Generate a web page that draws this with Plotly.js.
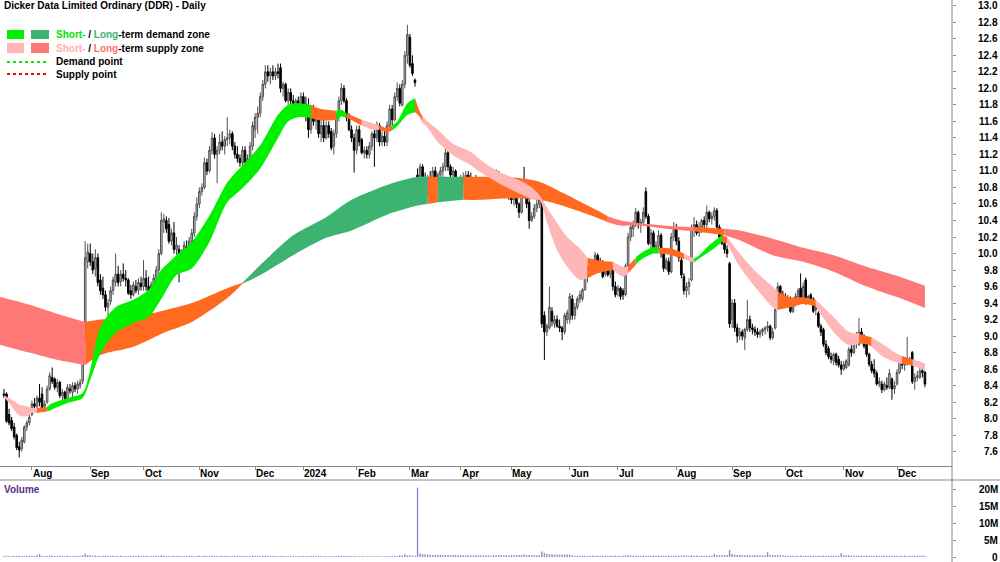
<!DOCTYPE html>
<html><head><meta charset="utf-8">
<script src="https://cdn.plot.ly/plotly-3.0.1.min.js"></script>
<style>html,body{margin:0;padding:0;background:#fff}#chart{width:1000px;height:562px}</style>
</head><body><div id="chart"></div>
<script>
// ---- Daily bars (trading day index 0 = 17 Jul 2023 ... 363 = 17 Dec 2024) ----
const openP = [
8.30,8.30,8.05,7.98,7.90,7.80,7.66,7.64,7.72,7.90,7.95,
8.05,8.18,8.15,8.25,8.30,8.15,8.20,8.36,8.50,8.48,8.38,8.44,8.28,8.32,8.24,8.36,8.32,8.40,8.36,8.40,8.45,9.00,9.90,
10.00,9.90,9.82,9.95,9.68,9.58,9.50,9.35,9.42,9.55,9.65,9.75,9.66,9.75,9.70,9.68,9.55,9.50,9.60,9.56,9.64,
9.60,9.70,9.60,9.52,9.62,9.70,9.80,10.00,10.38,10.40,10.35,10.15,10.25,10.05,10.05,9.90,10.00,10.08,10.02,10.15,10.25,10.45,
10.60,10.75,10.80,11.10,11.00,11.25,11.40,11.20,11.25,11.35,11.30,11.38,11.40,11.45,11.30,11.20,11.15,11.10,11.25,11.10,11.15,11.30,
11.50,11.65,11.70,11.90,12.05,12.20,12.15,12.20,12.15,12.20,12.25,12.00,12.05,11.85,11.95,11.85,11.72,11.85,11.80,
11.90,11.80,11.70,11.50,11.75,11.60,11.65,11.45,11.55,11.40,11.55,11.48,11.30,11.45,11.65,11.85,12.00,11.85,11.65,11.50,11.40,
11.25,11.50,11.38,11.22,11.25,11.20,11.30,11.45,11.40,11.55,11.35,11.42,11.35,11.55,11.75,11.62,11.90,12.00,11.80,12.05,12.40,
12.62,12.30,12.10,10.95,10.70,11.05,10.90,10.72,10.90,10.85,11.00,10.90,10.95,11.00,11.05,11.22,11.05,10.95,11.00,10.85,
10.80,10.90,10.92,10.95,10.90,10.85,10.88,10.82,10.75,10.85,10.78,10.80,10.72,10.80,10.78,10.98,10.85,10.80,10.75,10.78,
10.70,10.65,10.70,10.60,10.50,10.80,10.75,10.62,10.40,10.45,10.55,10.60,10.65,9.25,9.05,9.10,9.30,9.15,9.20,9.12,9.10,9.05,9.20,
9.20,9.45,9.25,9.35,9.45,9.45,9.56,9.75,9.80,9.85,9.88,9.98,9.90,9.88,9.75,9.85,9.75,9.82,9.60,
9.55,9.58,9.55,9.50,9.85,10.20,10.30,10.35,10.50,10.35,10.38,10.75,10.45,10.12,10.25,10.05,10.10,10.22,10.00,9.82,9.90,9.78,10.20,
10.30,10.15,9.92,9.72,9.55,9.60,9.68,10.30,10.35,10.25,10.32,10.40,10.35,10.50,10.42,10.45,10.52,10.32,10.20,10.12,10.05,9.88,
9.20,9.40,9.10,9.00,9.05,8.98,9.08,9.20,9.10,9.08,9.05,9.02,9.05,9.08,9.10,9.12,8.98,9.10,9.35,9.60,9.50,
9.45,9.42,9.45,9.30,9.42,9.48,9.58,9.45,9.68,9.42,9.50,9.45,9.32,9.28,9.12,9.08,8.90,8.85,8.75,8.70,8.78,8.72,8.65,
8.60,8.62,8.65,8.84,8.80,8.95,8.90,9.05,9.00,8.90,8.78,8.66,8.60,8.55,8.42,8.42,8.35,8.40,8.38,8.48,8.36,
8.42,8.56,8.70,8.65,8.68,8.70,8.80,8.45,8.50,8.50,8.58,8.56];
const highP = [
8.36,8.32,8.12,8.02,7.95,7.82,7.72,7.78,7.92,7.98,8.05,
8.22,8.25,8.28,8.42,8.38,8.22,8.40,8.56,8.62,8.50,8.48,8.46,8.36,8.34,8.42,8.42,8.44,8.44,8.46,8.48,8.95,10.15,10.12,
10.12,10.00,10.05,10.00,9.75,9.72,9.55,9.45,9.60,9.72,10.00,9.85,9.80,9.88,9.80,9.70,9.62,9.66,9.68,9.70,9.72,
9.92,9.80,9.72,9.66,9.75,9.85,10.05,10.50,10.48,10.45,10.43,10.30,10.38,10.20,10.10,10.05,10.15,10.16,10.20,10.30,10.50,10.68,
10.80,10.85,11.16,11.15,11.30,11.47,11.45,11.30,11.45,11.48,11.42,11.65,11.50,11.48,11.35,11.30,11.20,11.30,11.30,11.20,11.35,11.60,
11.70,11.78,11.95,12.10,12.28,12.28,12.25,12.28,12.25,12.30,12.30,12.08,12.07,12.00,12.00,11.92,11.88,11.90,11.95,
11.95,11.90,11.88,11.80,11.80,11.70,11.68,11.62,11.64,11.60,11.60,11.52,11.50,11.70,11.90,12.06,12.04,11.88,11.70,11.55,11.45,
11.55,11.55,11.40,11.30,11.30,11.35,11.48,11.50,11.60,11.58,11.48,11.50,11.60,11.80,11.80,11.95,12.07,12.05,12.10,12.45,12.77,
12.66,12.40,12.12,11.03,11.09,11.08,10.98,10.95,11.00,11.05,11.05,10.98,11.05,11.10,11.27,11.25,11.08,11.05,11.02,10.92,
10.95,10.98,11.00,11.00,10.98,10.92,10.95,10.88,10.90,10.90,10.85,10.88,10.85,10.85,11.02,11.00,10.90,10.88,10.82,10.80,
10.77,10.75,10.72,10.62,10.85,11.05,10.78,10.68,10.50,10.60,10.65,10.70,10.68,9.30,9.15,9.60,9.35,9.25,9.25,9.20,9.12,9.28,9.32,
9.52,9.50,9.40,9.48,9.55,9.58,9.80,9.85,9.88,9.92,10.02,10.00,9.95,9.92,9.85,9.90,9.88,9.85,9.66,
9.62,9.60,9.58,9.88,10.25,10.38,10.40,10.55,10.52,10.42,10.56,10.80,10.48,10.30,10.28,10.15,10.28,10.25,10.05,9.95,9.95,10.25,10.38,
10.36,10.20,9.95,9.76,9.65,9.70,10.35,10.44,10.40,10.38,10.42,10.45,10.58,10.52,10.50,10.56,10.55,10.35,10.25,10.18,10.10,9.90,
9.45,9.45,9.15,9.10,9.08,9.10,9.44,9.25,9.15,9.12,9.10,9.08,9.10,9.12,9.18,9.14,9.10,9.35,9.65,9.62,9.55,
9.52,9.50,9.48,9.45,9.52,9.58,9.76,9.65,9.71,9.50,9.52,9.47,9.40,9.30,9.15,9.10,8.95,8.88,8.80,8.80,8.80,8.76,8.70,
8.70,8.72,8.87,8.90,8.98,9.05,9.22,9.10,9.02,8.92,8.80,8.70,8.72,8.58,8.50,8.46,8.45,8.50,8.60,8.50,8.45,
8.60,8.74,8.75,8.72,8.99,8.75,8.82,8.55,8.58,8.62,8.62,8.58];
const lowP = [
8.25,7.95,7.92,7.85,7.75,7.62,7.53,7.60,7.70,7.85,7.92,
8.03,8.12,8.10,8.15,8.10,8.08,8.18,8.34,8.42,8.35,8.32,8.25,8.22,8.20,8.22,8.30,8.26,8.32,8.30,8.36,8.42,8.95,9.82,
9.85,9.75,9.72,9.60,9.50,9.45,9.30,9.22,9.38,9.50,9.60,9.60,9.60,9.66,9.60,9.50,9.45,9.48,9.52,9.50,9.55,
9.55,9.55,9.48,9.45,9.55,9.62,9.75,9.98,10.25,10.25,10.12,10.10,10.00,9.98,9.65,9.82,9.95,9.98,9.98,10.05,10.20,10.40,
10.55,10.70,10.78,10.95,10.98,11.20,11.15,10.85,11.20,11.25,11.20,11.30,11.32,11.25,11.15,11.10,11.05,11.00,11.05,11.00,11.10,11.25,
11.40,11.45,11.65,11.85,12.00,12.08,12.05,12.10,12.10,12.12,11.95,11.90,11.83,11.65,11.80,11.68,11.70,11.75,11.75,
11.75,11.60,11.40,11.45,11.55,11.50,11.40,11.35,11.35,11.38,11.40,11.25,11.20,11.40,11.60,11.80,11.82,11.60,11.48,11.35,10.98,
11.20,11.30,11.20,11.15,11.15,11.15,11.25,11.05,11.35,11.30,11.30,11.30,11.30,11.50,11.55,11.60,11.85,11.78,11.78,12.00,12.30,
12.25,12.15,12.02,10.60,10.68,10.80,10.70,10.70,10.80,10.82,10.85,10.82,10.90,10.92,11.00,11.00,10.92,10.88,10.82,10.74,
10.76,10.85,10.85,10.88,10.82,10.78,10.80,10.72,10.72,10.75,10.70,10.70,10.68,10.72,10.76,10.80,10.75,10.72,10.68,10.65,
10.60,10.58,10.55,10.43,10.48,10.70,10.55,10.30,10.38,10.42,10.50,10.55,9.10,8.71,9.00,9.08,9.12,9.10,9.10,9.05,8.95,9.02,9.15,
9.15,9.20,9.20,9.32,9.40,9.42,9.55,9.65,9.72,9.80,9.85,9.85,9.80,9.70,9.72,9.72,9.70,9.55,9.47,
9.48,9.44,9.44,9.48,9.82,10.15,10.20,10.32,10.30,10.25,10.35,10.42,10.10,10.05,10.02,10.00,10.05,9.95,9.78,9.80,9.74,9.76,10.15,
10.10,9.90,9.70,9.50,9.47,9.50,9.66,10.20,10.22,10.20,10.25,10.28,10.30,10.38,10.35,10.40,10.30,10.16,10.10,10.00,9.95,9.10,
9.10,9.05,8.92,8.95,8.95,8.83,9.05,9.05,9.02,9.00,8.98,8.98,9.00,9.02,9.05,8.95,8.96,9.08,9.32,9.45,9.40,
9.38,9.35,9.28,9.28,9.36,9.40,9.42,9.42,9.38,9.40,9.38,9.28,9.25,9.10,9.00,8.87,8.77,8.72,8.67,8.65,8.64,8.62,8.53,
8.58,8.60,8.63,8.75,8.78,8.85,8.88,8.95,8.85,8.75,8.63,8.55,8.50,8.40,8.38,8.31,8.33,8.35,8.36,8.23,8.30,
8.40,8.54,8.60,8.58,8.64,8.65,8.42,8.35,8.45,8.48,8.50,8.38];
const closeP = [
8.28,7.97,7.95,7.88,7.78,7.65,7.62,7.74,7.90,7.95,8.02,
8.18,8.15,8.25,8.20,8.12,8.18,8.36,8.52,8.45,8.38,8.44,8.28,8.32,8.24,8.38,8.34,8.40,8.36,8.42,8.44,8.90,9.95,10.02,
9.90,9.80,9.95,9.65,9.55,9.50,9.35,9.40,9.55,9.68,9.75,9.65,9.75,9.70,9.68,9.52,9.50,9.62,9.55,9.65,9.60,
9.70,9.60,9.52,9.62,9.70,9.80,10.00,10.40,10.42,10.30,10.15,10.25,10.05,10.10,9.90,10.00,10.10,10.02,10.15,10.25,10.45,10.60,
10.75,10.80,11.10,11.00,11.25,11.40,11.20,11.25,11.35,11.30,11.38,11.40,11.45,11.30,11.20,11.15,11.10,11.25,11.10,11.15,11.30,11.55,
11.65,11.70,11.90,12.05,12.20,12.15,12.20,12.15,12.20,12.18,12.00,12.05,11.85,11.95,11.85,11.70,11.85,11.80,11.90,
11.80,11.70,11.50,11.75,11.60,11.65,11.45,11.55,11.40,11.55,11.45,11.28,11.45,11.65,11.85,12.00,11.85,11.65,11.50,11.40,11.25,
11.50,11.35,11.22,11.25,11.20,11.30,11.45,11.40,11.55,11.35,11.42,11.35,11.55,11.75,11.62,11.90,12.00,11.82,12.05,12.40,12.65,
12.28,12.18,12.07,10.70,11.05,10.85,10.72,10.90,10.85,11.00,10.90,10.95,11.00,11.05,11.22,11.05,10.95,11.00,10.85,10.78,
10.90,10.92,10.95,10.90,10.85,10.88,10.82,10.75,10.85,10.78,10.80,10.72,10.80,10.78,10.98,10.85,10.80,10.75,10.78,10.70,
10.65,10.70,10.60,10.50,10.80,10.75,10.60,10.40,10.45,10.55,10.60,10.65,9.15,9.05,9.12,9.35,9.18,9.20,9.12,9.10,9.05,9.25,9.28,
9.48,9.25,9.35,9.45,9.50,9.56,9.75,9.80,9.85,9.90,9.98,9.88,9.82,9.72,9.80,9.74,9.85,9.60,9.50,
9.58,9.48,9.50,9.85,10.20,10.32,10.35,10.50,10.35,10.38,10.50,10.45,10.12,10.25,10.05,10.10,10.22,10.00,9.82,9.92,9.78,10.20,10.30,
10.15,9.95,9.74,9.55,9.60,9.65,10.30,10.35,10.25,10.32,10.40,10.35,10.50,10.42,10.45,10.52,10.32,10.20,10.12,10.05,10.00,9.15,
9.40,9.10,9.00,9.05,9.00,9.08,9.20,9.10,9.08,9.05,9.02,9.05,9.08,9.10,9.12,8.98,9.05,9.32,9.60,9.50,9.45,
9.42,9.45,9.30,9.42,9.48,9.55,9.45,9.60,9.40,9.48,9.40,9.30,9.35,9.12,9.05,8.90,8.80,8.75,8.72,8.78,8.68,8.65,8.60,
8.66,8.70,8.84,8.80,8.95,9.00,9.05,9.00,8.88,8.78,8.66,8.58,8.55,8.42,8.45,8.35,8.42,8.38,8.55,8.36,8.40,
8.56,8.70,8.65,8.68,8.70,8.72,8.45,8.50,8.52,8.58,8.56,8.42];
// volume in millions of shares
const volumeM = [
0.3,0.4,0.3,0.3,0.4,0.3,0.4,0.3,0.3,0.4,0.3,
0.4,0.3,0.5,0.9,0.4,0.3,0.4,0.5,0.4,0.3,0.3,0.4,0.3,0.3,0.4,0.3,0.3,0.4,0.3,0.4,0.5,1.0,0.6,
0.5,0.4,0.4,0.4,0.3,0.4,0.4,0.3,0.3,0.4,0.3,0.3,0.4,0.3,0.3,0.3,0.4,0.3,0.3,0.4,0.3,
0.3,0.4,0.3,0.3,0.3,0.4,0.3,0.5,0.4,0.3,0.3,0.3,0.4,0.3,0.4,0.3,0.3,0.3,0.3,0.4,0.3,0.4,
0.4,0.3,0.4,0.3,0.3,0.4,0.3,0.3,0.3,0.4,0.3,0.3,0.3,0.3,0.4,0.3,0.3,0.3,0.3,0.3,0.3,0.4,
0.4,0.3,0.3,0.4,0.4,0.3,0.3,0.3,0.3,0.3,0.3,0.3,0.3,0.2,0.3,0.3,0.2,0.3,0.3,
0.3,0.3,0.3,0.3,0.3,0.3,0.3,0.3,0.3,0.3,0.2,0.3,0.3,0.3,0.3,0.3,0.3,0.3,0.3,0.3,0.3,
0.2,0.2,0.3,0.2,0.2,0.2,0.2,0.3,0.2,0.2,0.2,0.2,0.3,0.3,0.3,0.3,0.3,0.5,0.4,0.8,0.5,
0.5,0.4,0.4,20.4,1.0,0.8,0.8,0.7,0.7,0.6,0.6,0.6,0.7,0.6,0.6,0.6,0.5,0.6,0.6,0.5,
0.5,0.5,0.5,0.5,0.5,0.5,0.5,0.5,0.5,0.4,0.5,0.5,0.4,0.5,0.5,0.6,0.5,0.5,0.5,0.5,
0.5,0.5,0.5,0.6,0.6,0.7,0.5,0.6,0.5,0.5,0.5,0.5,1.6,1.2,0.9,0.8,0.8,0.7,0.7,0.7,0.7,0.7,0.7,
0.7,0.5,0.4,0.4,0.4,0.4,0.4,0.4,0.4,0.4,0.4,0.4,0.4,0.4,0.4,0.4,0.4,0.4,0.4,
0.4,0.4,0.4,0.5,0.5,0.4,0.4,0.4,0.4,0.4,0.4,0.4,0.4,0.4,0.4,0.4,0.4,0.4,0.4,0.4,0.4,0.4,0.4,
0.4,0.4,0.4,0.5,0.4,0.4,0.5,0.4,0.4,0.4,0.4,0.4,0.4,0.4,0.4,0.9,0.5,0.5,0.5,0.5,0.6,2.1,
0.9,0.7,0.6,0.6,0.5,0.5,0.5,0.5,0.5,0.5,0.5,0.5,0.5,0.5,1.4,0.6,0.5,0.5,0.6,0.5,0.5,
0.4,0.4,0.4,0.4,0.4,0.4,0.4,0.4,0.4,0.4,0.4,0.4,0.4,0.4,0.4,0.4,0.4,0.4,0.4,0.4,0.4,0.4,1.2,
0.5,0.5,0.5,0.4,0.4,0.4,0.4,0.4,0.4,0.4,0.4,0.4,0.4,0.4,0.4,0.4,0.4,0.4,0.4,0.4,0.4,
0.4,0.4,0.4,0.4,0.4,0.4,0.4,0.4,0.4,0.4,0.4,0.4];

// ---- Month ticks (trading-day index of first session of each month) ----
const monthTickIdx  = [11,34,55,77,99,118,139,160,180,200,223,242,265,287,308,331,352];
const monthTickText = ['Aug','Sep','Oct','Nov','Dec','2024','Feb','Mar','Apr','May','Jun','Jul','Aug','Sep','Oct','Nov','Dec'];
const priceTicks = [7.6,7.8,8.0,8.2,8.4,8.6,8.8,9.0,9.2,9.4,9.6,9.8,10.0,10.2,10.4,10.6,10.8,11.0,11.2,11.4,11.6,11.8,12.0,12.2,12.4,12.6,12.8,13.0];
const volTicks = [0,5,10,15,20];
const volTickText = ['0','5M','10M','15M','20M'];

// ---- Short-term zone (knot index, upper, lower, zone type of the span starting at the knot) ----
const stIdx = [0,2,6,9,11,13,17,18,25,31,34,38,44,51,57,62,68,74,81,88,94,101,108,112,116,121,125,131,133,135,138,141,145,148,151,153,155,159,162,164,165,167,171,177,184,188,195,203,208,211,214,218,222,227,230,234,240,244,246,249,250,253,256,258,263,268,272,274,278,283,285,290,297,303,305,310,315,320,327,333,337,340,342,347,353,354,356,358,363];
const stUp = [8.28,8.25,8.17,8.15,8.13,8.13,8.14,8.17,8.25,8.31,8.59,9.11,9.35,9.44,9.56,9.80,9.98,10.14,10.46,10.86,11.07,11.31,11.68,11.80,11.82,11.80,11.75,11.73,11.74,11.70,11.66,11.62,11.58,11.55,11.52,11.55,11.60,11.82,11.88,11.71,11.66,11.60,11.50,11.33,11.23,11.13,10.99,10.89,10.80,10.71,10.56,10.37,10.20,10.06,9.95,9.92,9.90,9.84,9.85,9.95,9.98,10.04,10.08,10.07,10.06,10.00,9.94,9.98,10.10,10.22,10.20,10.00,9.76,9.60,9.54,9.47,9.47,9.44,9.23,9.05,9.03,9.00,8.99,8.89,8.77,8.76,8.74,8.72,8.67];
const stLo = [8.26,8.19,8.04,8.03,8.07,8.07,8.09,8.10,8.19,8.25,8.47,8.79,9.04,9.16,9.23,9.45,9.74,9.82,10.14,10.62,10.79,11.03,11.40,11.60,11.65,11.64,11.61,11.62,11.66,11.64,11.60,11.55,11.50,11.50,11.47,11.49,11.54,11.68,11.71,11.65,11.58,11.52,11.35,11.19,11.07,10.98,10.85,10.73,10.66,10.65,10.38,10.04,9.84,9.68,9.70,9.76,9.80,9.72,9.76,9.86,9.90,9.96,10.00,10.00,9.98,9.93,9.89,9.94,10.02,10.14,10.12,9.84,9.56,9.35,9.32,9.35,9.39,9.36,9.05,8.89,8.91,8.90,8.87,8.74,8.67,8.66,8.66,8.64,8.59];
const stType = ['SS','SS','SS','SS','SS','N','SD','SD','SD','SD','SD','SD','SD','SD','SD','SD','SD','SD','SD','SD','SD','SD','SD','SD','SD','N','N','SD','SD','N','N','SS','SS','N','N','SD','SD','SD','N','N','SS','SS','SS','SS','SS','SS','SS','SS','SS','SS','SS','SS','SS','SS','N','N','SS','SS','N','SD','SD','SD','SD','N','N','SS','SD','SD','SD','N','SS','SS','SS','SS','N','N','N','SS','SS','SS','N','N','SS','SS','SS','N','N','SS','SS'];

// ---- Long-term zone ----
const ltIdx = [-2,10,20,32,38,51,63,74,88,94,101,114,127,137,151,163,167,171,181,188,201,211,220,234,238,243,250,264,272,284,290,303,315,327,340,353,363];
const ltUp = [9.48,9.38,9.28,9.17,9.20,9.23,9.31,9.40,9.58,9.645,9.86,10.22,10.44,10.65,10.83,10.93,10.93,10.93,10.93,10.93,10.92,10.87,10.74,10.52,10.45,10.40,10.37,10.33,10.32,10.30,10.28,10.18,10.07,9.98,9.84,9.72,9.61];
const ltLo = [8.90,8.80,8.72,8.65,8.77,8.87,9.04,9.17,9.46,9.635,9.74,9.98,10.19,10.28,10.47,10.58,10.60,10.62,10.65,10.65,10.67,10.65,10.58,10.43,10.38,10.34,10.34,10.29,10.27,10.22,10.16,9.98,9.90,9.78,9.60,9.46,9.34];
const ltType = ['LS','LS','LS','N','N','N','N','N','N','LD','LD','LD','LD','LD','LD','LD','N','LD','N','N','N','N','N','N','LS','LS','LS','LS','N','LS','LS','LS','LS','LS','LS','LS','LS'];

// ---- styling ----
const F = 'Liberation Sans, Arial, Helvetica, sans-serif';
const zoneColor = {SD:'#00f000', LD:'#3cb371', SS:'#ffb6b6', LS:'#ff7878', N:'#ff6a20'};
const W = 1000, H = 562, PW = 952;
const px = v => v / PW;            // x pixel -> paper
const py = v => (H - v) / H;       // y pixel -> paper

// one lower (unfilled) + one upper (filled to lower) smooth trace per run of same zone type
function zoneTraces(idx, up, lo, type) {
  const out = [];
  let a = 0;
  for (let k = 1; k < idx.length; k++) {
    const endGroup = (k === idx.length - 1) || type[k] !== type[a];
    if (endGroup) {
      const xs = idx.slice(a, k + 1);
      const common = {type:'scatter', mode:'lines', x:xs, hoverinfo:'skip', xaxis:'x', yaxis:'y'};
      out.push({...common, y:lo.slice(a, k + 1), line:{width:0, shape:'spline', smoothing:0.8}});
      out.push({...common, y:up.slice(a, k + 1), line:{width:0, shape:'spline', smoothing:0.8},
        fill:'tonexty', fillcolor:zoneColor[type[a]]});
      a = k;
    }
  }
  return out;
}

const dayIdx = closeP.map((_, i) => i);
const traces = [
  ...zoneTraces(ltIdx, ltUp, ltLo, ltType),
  ...zoneTraces(stIdx, stUp, stLo, stType),
  {type:'candlestick', x:dayIdx, open:openP, high:highP, low:lowP, close:closeP,
   xaxis:'x', yaxis:'y', whiskerwidth:0, hoverinfo:'skip',
   increasing:{line:{color:'#505050', width:1}, fillcolor:'#c4c4c4'},
   decreasing:{line:{color:'#000000', width:1}, fillcolor:'#000000'}},
  {type:'bar', x:dayIdx, y:volumeM, xaxis:'x2', yaxis:'y2', width:0.55,
   marker:{color:'#8a8ad4', line:{width:0}}, hoverinfo:'skip'}
];

const xr = [-4/2.537, (PW-4)/2.537];
const annotations = [];
const txt = (x, y, t, xref, yref, extra) => Object.assign({xref:xref||'paper', yref:yref||'paper', x, y,
  xanchor:'left', yanchor:'middle', showarrow:false, font:{family:F, size:10, color:'#000'}, text:t}, extra||{});
annotations.push(txt(px(2), py(6), '<b>Dicker Data Limited Ordinary (DDR) - Daily</b>'));
annotations.push(txt(px(54), py(35), '<b><span style="color:#00e600">Short-</span> / <span style="color:#3cb371">Long</span>-term demand zone</b>'));
annotations.push(txt(px(54), py(48.5), '<b><span style="color:#ffb0b0">Short-</span> / <span style="color:#ff7070">Long</span>-term supply zone</b>'));
annotations.push(txt(px(54), py(62), '<b>Demand point</b>'));
annotations.push(txt(px(54), py(74), '<b>Supply point</b>'));
annotations.push(txt(px(2), py(489), '<b>Volume</b>', 'paper', 'paper', {font:{family:F, size:10, color:'#5a2d8c'}}));
monthTickIdx.forEach((m, i) => annotations.push(txt(m, py(473.5), '<b>' + monthTickText[i] + '</b>', 'x', 'paper', {xshift:-1})));
priceTicks.forEach(v => annotations.push(txt(px(1000), v, '<b>' + v.toFixed(1) + '</b>', 'paper', 'y', {xanchor:'right'})));
volTicks.forEach((v, i) => annotations.push(txt(px(1000), v, '<b>' + volTickText[i] + '</b>', 'paper', 'y2', {xanchor:'right'})));

const shapes = [
  {type:'rect', xref:'paper', yref:'paper', x0:px(7), x1:px(24), y0:py(39), y1:py(30), fillcolor:zoneColor.SD, line:{width:0}},
  {type:'rect', xref:'paper', yref:'paper', x0:px(31), x1:px(49), y0:py(39), y1:py(30), fillcolor:zoneColor.LD, line:{width:0}},
  {type:'rect', xref:'paper', yref:'paper', x0:px(7), x1:px(24), y0:py(53), y1:py(43), fillcolor:zoneColor.SS, line:{width:0}},
  {type:'rect', xref:'paper', yref:'paper', x0:px(31), x1:px(49), y0:py(53), y1:py(43), fillcolor:zoneColor.LS, line:{width:0}},
  {type:'line', xref:'paper', yref:'paper', x0:px(7), x1:px(47), y0:py(62), y1:py(62), line:{color:'#00ee00', width:2, dash:'dot'}},
  {type:'line', xref:'paper', yref:'paper', x0:px(7), x1:px(47), y0:py(74), y1:py(74), line:{color:'#ff0000', width:2, dash:'dot'}},
  {type:'line', xref:'paper', yref:'paper', x0:1, x1:1, y0:0, y1:1, line:{color:'#888', width:1}},
  {type:'line', xref:'paper', yref:'paper', x0:0, x1:px(1000), y0:py(480), y1:py(480), line:{color:'#888', width:1}}
];

const layout = {
  width:W, height:H, margin:{l:0, r:W-PW, t:0, b:0},
  paper_bgcolor:'#ffffff', plot_bgcolor:'#ffffff', showlegend:false,
  font:{family:F, size:10, color:'#000'},
  boxgap:0.12,
  xaxis:{domain:[0,1], range:xr, anchor:'y', showgrid:false, zeroline:false, showline:true, linecolor:'#888', linewidth:1,
    ticks:'outside', ticklen:3, tickcolor:'#888', tickvals:monthTickIdx, showticklabels:false,
    rangeslider:{visible:false}, fixedrange:true},
  xaxis2:{domain:[0,1], range:xr, anchor:'y2', showgrid:false, zeroline:false, showline:false, ticks:'', showticklabels:false, fixedrange:true},
  yaxis:{domain:[py(466),1], range:[7.427,13.07], side:'right', anchor:'x', showgrid:false, zeroline:false, showline:false,
    ticks:'outside', ticklen:3, tickcolor:'#888', tickvals:priceTicks, showticklabels:false, fixedrange:true},
  yaxis2:{domain:[0,py(480)], range:[-1.47,22.65], side:'right', anchor:'x2', showgrid:false, zeroline:false, showline:false,
    ticks:'outside', ticklen:3, tickcolor:'#888', tickvals:volTicks, showticklabels:false, fixedrange:true},
  shapes, annotations
};

Plotly.newPlot('chart', traces, layout, {staticPlot:true, displayModeBar:false});
</script>
</body></html>
